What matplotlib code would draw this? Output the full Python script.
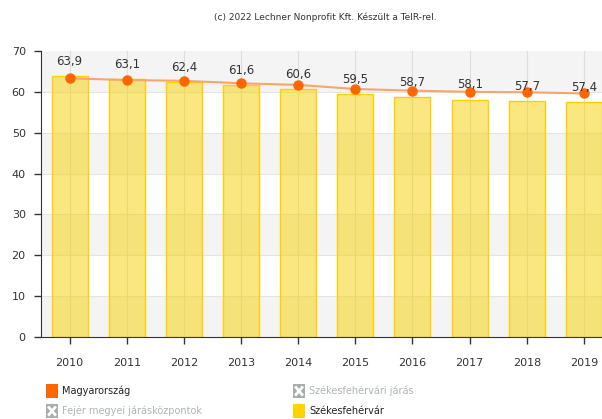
import matplotlib
matplotlib.use("Agg")
import matplotlib.pyplot as plt
from matplotlib.patches import Rectangle
from matplotlib.lines import Line2D

plt.rcParams['font.family'] = ['DejaVu Sans']

years = ['2010', '2011', '2012', '2013', '2014', '2015', '2016', '2017', '2018', '2019']
szekesfehervar = [63.9, 63.1, 62.4, 61.6, 60.6, 59.5, 58.7, 58.1, 57.7, 57.4]
magyarorszag = [63.3, 62.9, 62.7, 62.1, 61.7, 60.7, 60.3, 60.0, 59.9, 59.6]
y_ticks = [0, 10, 20, 30, 40, 50, 60, 70]

fig = plt.figure(figsize=(6.02, 4.19), dpi=100)
ax = fig.add_axes([41 / 602, 1 - 337 / 419, (612.5 - 41) / 602, (337 - 51) / 419])

x = list(range(len(years)))

# alternating bands
for lo in range(0, 70, 20):
    ax.axhspan(lo, lo + 10, color='#f4f4f4', zorder=0, lw=0)
for t in y_ticks[1:-1]:
    ax.axhline(t, color='#e4e4e4', lw=0.8, zorder=0.5)
for xi in x:
    ax.axvline(xi, color='#dedede', lw=0.8, zorder=0.5)

ax.bar(x, szekesfehervar, width=0.63, color=(0.97, 0.82, 0.0, 0.5), edgecolor='#ffd000',
       linewidth=1, zorder=2)
for xi, v in zip(x, szekesfehervar):
    ax.annotate(f'{v:.1f}'.replace('.', ','), (xi, v), xytext=(0, 6),
                textcoords='offset points', ha='center', va='bottom',
                fontsize=8.5, color='#333333', zorder=5)

ax.plot(x, magyarorszag, color='#f7a46f', lw=1.5, zorder=3)
ax.plot(x, magyarorszag, 'o', color='#ff6600', ms=6.5, zorder=4)

ax.set_xlim(-0.5, 9.5)
ax.set_ylim(0, 70)
ax.set_yticks(y_ticks)
ax.set_xticks(x)
ax.set_xticklabels(years)
ax.tick_params(axis='both', labelsize=8, colors='#333333', length=5, width=1)
ax.tick_params(axis='x', pad=10)
ax.tick_params(axis='y', pad=6)
for s in ['top', 'right']:
    ax.spines[s].set_visible(False)
for s in ['left', 'bottom']:
    ax.spines[s].set_color('#333333')

fig.text(325 / 602, 1 - 17 / 419, '(c) 2022 Lechner Nonprofit Kft. Készült a TeIR-rel.',
         ha='center', va='center', fontsize=6.5, color='#333333')

# legend
def legend_box(px, py, label, color=None, disabled=False):
    w, h = 12 / 602, 14 / 419
    x0, y0 = px / 602, 1 - (py + 7) / 419
    if disabled:
        fig.patches.append(Rectangle((x0, y0), w, h, transform=fig.transFigure,
                                     facecolor='#a8aeae', edgecolor='none'))
        m = 0.25
        fig.lines.append(Line2D([x0 + w * m, x0 + w * (1 - m)], [y0 + h * m, y0 + h * (1 - m)],
                                transform=fig.transFigure, color='white', lw=2))
        fig.lines.append(Line2D([x0 + w * m, x0 + w * (1 - m)], [y0 + h * (1 - m), y0 + h * m],
                                transform=fig.transFigure, color='white', lw=2))
        tc = '#b0b4b4'
    else:
        fig.patches.append(Rectangle((x0, y0), w, h, transform=fig.transFigure,
                                     facecolor=color, edgecolor='none'))
        tc = '#222222'
    fig.text((px + 16) / 602, 1 - py / 419, label, ha='left', va='center',
             fontsize=7, color=tc)

legend_box(46, 391, 'Magyarország', color='#ff6600')
legend_box(293, 391, 'Székesfehérvári járás', disabled=True)
legend_box(46, 411, 'Fejér megyei járásközpontok', disabled=True)
legend_box(293, 411, 'Székesfehérvár', color='#ffd200')

fig.savefig('out.png', dpi=100)
